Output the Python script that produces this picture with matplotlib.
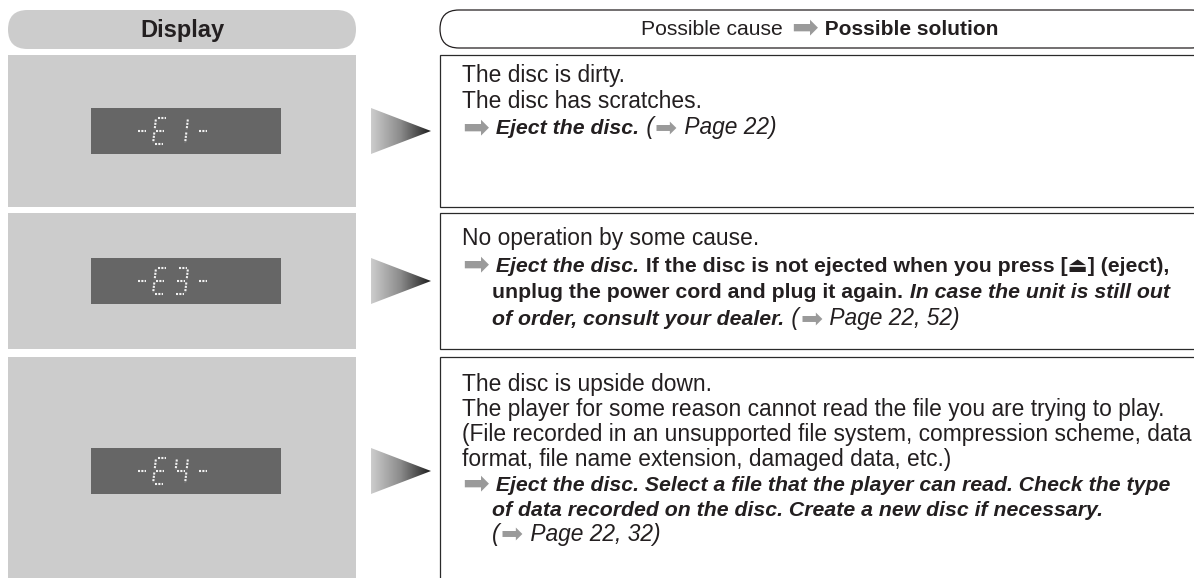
import matplotlib
matplotlib.use("Agg")
import matplotlib.pyplot as plt
import numpy as np
from matplotlib.patches import FancyBboxPatch, Rectangle, Polygon
from matplotlib.colors import LinearSegmentedColormap

# --- table content ---
header_left = "Display"
header_right = [("Possible cause", "hr"), (" ", "hr"), ("➡", "arr"), (" Possible solution", "hb")]

# front-panel display codes, one entry per character cell
display_codes = [["-", "E", "1", "-"], ["-", "E", "3", "-"], ["-", "E", "4", "-"]]

row_lines = [
    [
        [("The disc is dirty.", "r")],
        [("The disc has scratches.", "r")],
        [("➡", "arr"), (" Eject the disc.", "bi"), (" (", "i"), ("➡", "arr2"), (" Page 22)", "i")],
    ],
    [
        [("No operation by some cause.", "r")],
        [("➡", "arr"), (" Eject the disc.", "bi"),
         (" If the disc is not ejected when you press [⏏] (eject),", "b")],
        [("unplug the power cord and plug it again.", "b"), (" In case the unit is still out", "bi")],
        [("of order, consult your dealer.", "bi"), (" (", "i"), ("➡", "arr2"), (" Page 22, 52)", "i")],
    ],
    [
        [("The disc is upside down.", "r")],
        [("The player for some reason cannot read the file you are trying to play.", "r")],
        [("(File recorded in an unsupported file system, compression scheme, data", "r")],
        [("format, file name extension, damaged data, etc.)", "r")],
        [("➡", "arr"), (" Eject the disc. Select a file that the player can read. Check the type", "bi")],
        [("of data recorded on the disc. Create a new disc if necessary.", "bi")],
        [("(", "i"), ("➡", "arr2"), (" Page 22, 32)", "i")],
    ],
]
# continuation lines sit indented under the arrow
row_cont = [[0, 0, 0], [0, 0, 1, 1], [0, 0, 0, 0, 0, 1, 1]]

# seven segment map
SEGMENTS = {"E": "adefg", "1": "bc", "3": "abcdg", "4": "bcfg", "-": "g"}

FONT = ["Liberation Sans", "DejaVu Sans"]
SIZES = {"r": 16.4, "i": 16.4, "b": 15.3, "bi": 15.3, "hr": 15.2, "hb": 15.0}
ARROWS = {"arr": (23, 2.5), "arr2": (19, 1.0)}  # size, downward nudge
INK = "#231f20"
ARROW_COLOR = "#9a9a9a"
PANEL = "#cccccc"
LCD = "#666666"

W, H = 1194, 578
fig = plt.figure(figsize=(W / 100, H / 100), dpi=100)
ax = fig.add_axes([0, 0, 1, 1])
ax.set_xlim(0, W)
ax.set_ylim(H, 0)
ax.axis("off")
r = fig.canvas.get_renderer()


def draw_runs(x, y, runs):
    texts = []
    for text, style in runs:
        if style.startswith("arr"):
            size, nudge = ARROWS[style]
            t = ax.text(x, y + nudge, text, fontsize=size, color=ARROW_COLOR,
                        family=["DejaVu Sans"], va="baseline", ha="left")
        else:
            t = ax.text(x, y, text, fontsize=SIZES[style], color=INK, family=FONT,
                        fontweight="bold" if "b" in style else "normal",
                        fontstyle="italic" if "i" in style else "normal",
                        va="baseline", ha="left")
        texts.append(t)
        x += t.get_window_extent(r).width + 1
    return texts, x


# headers
ax.add_patch(FancyBboxPatch((8, 10), 348, 39, boxstyle="round,pad=0,rounding_size=19.5",
                            fc=PANEL, ec="none"))
ax.text(182, 30, header_left, fontsize=17, fontweight="bold", family=FONT,
        color=INK, ha="center", va="center")
ax.add_patch(FancyBboxPatch((440, 10), 770, 38, boxstyle="round,pad=0,rounding_size=19",
                            fc="white", ec=INK, lw=0.9))
texts, xend = draw_runs(0, 35, header_right)
shift = 820 - xend / 2
for t in texts:
    t.set_x(t.get_position()[0] + shift)

# rows
row_tops = [55, 213, 357]
row_bottoms = [207, 349, 585]
cmap = LinearSegmentedColormap.from_list("tri", ["#cdcdcd", "#8a8a8a", "#1e1e1e"])
grad = np.linspace(0, 1, 256).reshape(1, -1)
baselines = [(82, 26.2), (245, 26.7), (391, 25.0)]
cells = [135, 153, 174, 196]


def seg_points(x0, yc, w=11, h=26, s=3):
    top, mid, bot = yc - h / 2, yc, yc + h / 2
    P = {"TL": (x0 + s, top), "TR": (x0 + w + s, top), "ML": (x0 + s / 2, mid),
         "MR": (x0 + w + s / 2, mid), "BL": (x0, bot), "BR": (x0 + w, bot)}
    return {"a": (P["TL"], P["TR"]), "b": (P["TR"], P["MR"]), "c": (P["MR"], P["BR"]),
            "d": (P["BL"], P["BR"]), "e": (P["ML"], P["BL"]), "f": (P["TL"], P["ML"]),
            "g": (P["ML"], P["MR"])}


for i, (top, bot) in enumerate(zip(row_tops, row_bottoms)):
    yc = (top + bot) / 2
    # left gray panel
    ax.add_patch(Rectangle((8, top), 348, bot - top, fc=PANEL, ec="none"))
    # LCD window
    ax.add_patch(Rectangle((91, yc - 23), 190, 46, fc=LCD, ec="none"))
    # dotted seven segment characters
    for cx, ch in zip(cells, display_codes[i]):
        segs = seg_points(cx, yc)
        for sname in SEGMENTS[ch]:
            (x1, y1), (x2, y2) = segs[sname]
            dx, dy = x2 - x1, y2 - y1
            g = 1.5 / np.hypot(dx, dy)
            ax.plot([x1 + dx * g, x2 - dx * g], [y1 + dy * g, y2 - dy * g],
                    color="#f2f2f2", lw=1.5, dashes=(1.0, 0.6), dash_capstyle="butt")
    # gradient triangle
    tri = Polygon([(371, yc - 23), (431, yc), (371, yc + 23)], closed=True,
                  fc="none", ec="none")
    ax.add_patch(tri)
    im = ax.imshow(grad, cmap=cmap, extent=(371, 431, yc + 23, yc - 23),
                   aspect="auto", interpolation="bilinear", zorder=2)
    im.set_clip_path(tri)
    # right text box
    ax.add_patch(Rectangle((440, top), 780, bot - top, fc="white", ec="#2a2a2a", lw=0.9))
    y0, step = baselines[i]
    for k, (runs, cont) in enumerate(zip(row_lines[i], row_cont[i])):
        draw_runs(492 if cont else 462, y0 + k * step, runs)

ax.set_xlim(0, W)
ax.set_ylim(H, 0)
fig.savefig("out.png", dpi=100)
